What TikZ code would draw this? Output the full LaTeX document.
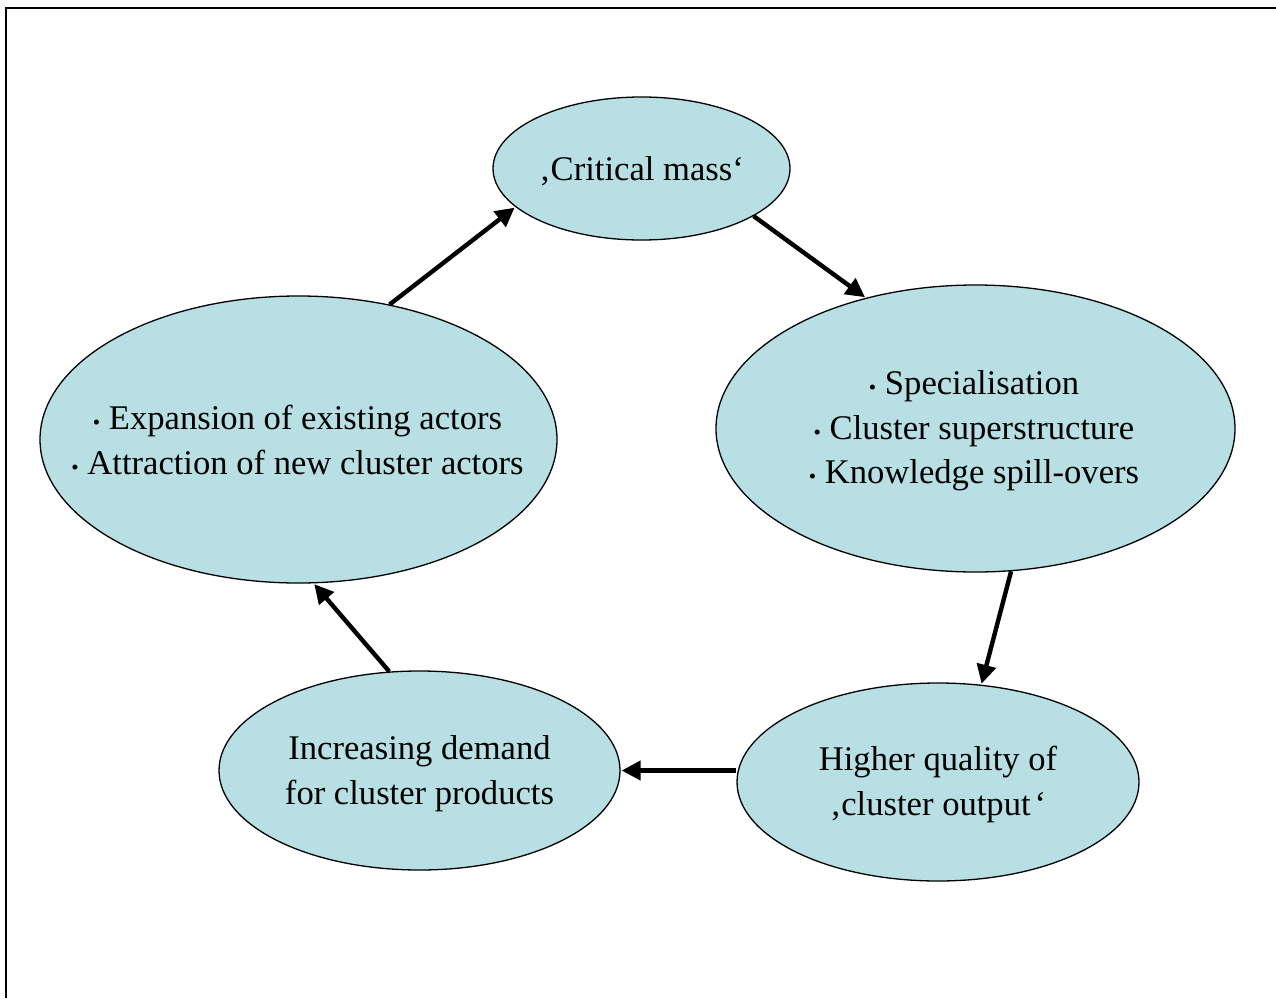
\documentclass[tikz,border=0pt]{standalone}
\usepackage{fontspec}
\setmainfont{Liberation Serif}
\usetikzlibrary{shapes.geometric,arrows.meta}
\definecolor{cellfill}{RGB}{184,223,227}
\newcommand{\bul}{{\fontsize{21}{21}\selectfont •}\ }
\newcommand{\lstrut}{\rule[-5pt]{0pt}{30pt}}
\tikzset{
  cell/.style={ellipse, draw=black, line width=1.3pt, fill=cellfill, inner sep=0pt},
  celltext/.style={align=center, inner sep=0pt, font=\fontsize{34.6}{44.5}\selectfont},
  flow/.style={line width=4.4pt, -{Triangle[length=19pt,width=19pt]}, shorten >=1pt},
  frameline/.style={line width=2.2pt}
}
\begin{document}
\begin{tikzpicture}[x=1pt,y=-1pt]
\useasboundingbox (0,0) rectangle (1276,998);
\coordinate (fa) at (6,998);
\coordinate (fb) at (6,8);
\coordinate (fc) at (1276,8);
\draw[frameline] (fa) -- (fb) -- (fc);

\node[cell, minimum width=297pt, minimum height=143pt] (crit) at (641.5,168.5) {};
\node[cell, minimum width=519pt, minimum height=287pt] (spec) at (975.5,428.5) {};
\node[cell, minimum width=402pt, minimum height=198pt] (qual) at (938,782) {};
\node[cell, minimum width=401pt, minimum height=199pt] (dem) at (419.5,770.5) {};
\node[cell, minimum width=517pt, minimum height=287pt] (exp) at (298.5,439.5) {};

\node[celltext] (critt) at (641.5,171) {\lstrut‚Critical mass‘};
\node[celltext] (spect) at (974,430.5) {\lstrut\bul Specialisation\\\lstrut\bul Cluster superstructure\\\lstrut\bul Knowledge spill-overs};
\node[celltext] (qualt) at (938,784) {\lstrut Higher quality of\\\lstrut‚cluster output\hspace{4pt}‘};
\node[celltext] (demt) at (419.5,773) {\lstrut Increasing demand\\\lstrut for cluster products};
\node[celltext] (expt) at (297.5,442) {\lstrut\bul Expansion of existing actors\\\lstrut\bul Attraction of new cluster actors};

\draw[flow] (exp.56.5) -- (crit.197);
\draw[flow] (crit.337.5) -- (spec.130.2);
\draw[flow] (spec.284.3) -- (qual.66.2);
\draw[flow] (qual.west |- dem.east) -- (dem.east);
\draw[flow] (dem.107.6) -- (exp.276.8);
\end{tikzpicture}
\end{document}
